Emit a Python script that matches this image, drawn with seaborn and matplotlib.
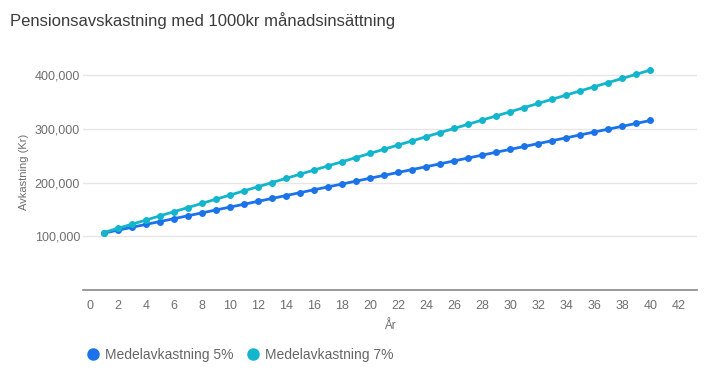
import matplotlib
matplotlib.use("Agg")
import matplotlib.pyplot as plt
from matplotlib.lines import Line2D
from matplotlib.ticker import FuncFormatter
import numpy as np
import pandas as pd
import seaborn as sns

# values
years = list(range(1, 41))
avk_5 = [106000, 111400, 116800, 122200, 127500, 132900, 138300, 143700, 149100, 154500,
         159800, 165200, 170600, 176000, 181400, 186800, 192200, 197500, 202900, 208300,
         213700, 219100, 224500, 229800, 235200, 240600, 246000, 251400, 256800, 262100,
         267500, 272900, 278300, 283700, 289100, 294500, 299800, 305200, 310600, 316000]
avk_7 = [107000, 114800, 122500, 130300, 138100, 145900, 153600, 161400, 169200, 176900,
         184700, 192500, 200200, 208000, 215800, 223500, 231300, 239100, 246800, 254600,
         262400, 270200, 277900, 285700, 293500, 301200, 309000, 316800, 324500, 332300,
         340100, 347800, 355600, 363400, 371200, 378900, 386700, 394500, 402200, 410000]
series_names = ["Medelavkastning 5%", "Medelavkastning 7%"]
x_ticks = list(range(0, 43, 2))
y_ticks = [100000, 200000, 300000, 400000]

colors = ["#1a73e8", "#12b5cb"]

df = pd.concat([
    pd.DataFrame({"År": years, "Avkastning": avk_5, "Serie": series_names[0]}),
    pd.DataFrame({"År": years, "Avkastning": avk_7, "Serie": series_names[1]}),
])

sns.set_style("white")
plt.rcParams["font.family"] = ["Liberation Sans", "DejaVu Sans"]

fig = plt.figure(figsize=(7.08, 3.8), dpi=100)
ax = fig.add_axes([0.117, 0.237, 0.867, 0.621])

sns.lineplot(data=df, x="År", y="Avkastning", hue="Serie", palette=colors,
             marker="o", markersize=5, markeredgewidth=0, linewidth=2,
             legend=False, ax=ax)

ax.set_xlim(-0.5, 43.3)
ax.set_ylim(0, 440000)
ax.set_xticks(x_ticks)
ax.set_yticks(y_ticks)
ax.yaxis.set_major_formatter(FuncFormatter(lambda v, p: f"{int(v):,}"))
ax.grid(axis="y", color="#e6e6e6", linewidth=1)
ax.set_axisbelow(True)
for s in ["top", "right", "left"]:
    ax.spines[s].set_visible(False)
ax.spines["bottom"].set_color("#888888")
ax.spines["bottom"].set_linewidth(1.2)
ax.tick_params(axis="both", length=0, labelsize=9, labelcolor="#6f6f6f")
ax.tick_params(axis="x", pad=7)
ax.tick_params(axis="y", pad=2)

ax.set_xlabel("År", fontsize=8.5, color="#6f6f6f", labelpad=6)
ax.set_ylabel("Avkastning (Kr)", fontsize=8, color="#6f6f6f", labelpad=4)

fig.text(0.014, 0.945, "Pensionsavskastning med 1000kr månadsinsättning",
         fontsize=12, color="#3c3c3c", va="center", ha="left")

handles = [Line2D([0], [0], marker="o", linestyle="", markersize=9,
                  markerfacecolor=c, markeredgewidth=0) for c in colors]
fig.legend(handles, series_names, loc="center left", bbox_to_anchor=(0.104, 0.066),
           frameon=False, ncol=2, fontsize=10, labelcolor="#666666",
           handletextpad=0.35, columnspacing=0.9, handlelength=1.0)

fig.savefig("out.png", dpi=100)
